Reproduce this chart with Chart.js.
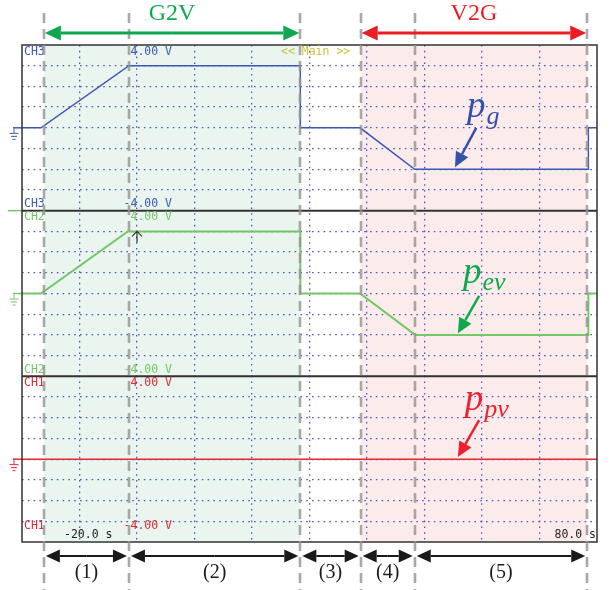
<!DOCTYPE html>
<html>
<head>
<meta charset="utf-8">
<script src="https://cdn.jsdelivr.net/npm/chart.js@4/dist/chart.umd.min.js"></script>
<style>
  html, body { margin: 0; padding: 0; background: #fff; }
</style>
</head>
<body>
<canvas id="scope" width="611" height="590"></canvas>
<script>
// --- data (time in s, 1 V/div scope traces) ---
const timeMin = -20;
const timeMax = 80;
const pgTime = [-20, -16.7, -1.4, 28.4, 28.4, 38.8, 48.3, 78.5, 78.5, 80];
const pgValue = [0, 0, 3, 3, 0, 0, -2, -2, 0, 0];
const pevTime = [-20, -16.7, -1.6, 28.4, 28.4, 38.8, 48.4, 78.5, 78.5, 80];
const pevValue = [0, 0, 3, 3, 0, 0, -2, -2, 0, 0];
const ppvTime = [-20, 80];
const ppvValue = [0, 0];
// operating stage boundaries (grey dashed lines)
const stageEdges = [-16.2, -1.4, 28.4, 38.9, 48.3, 78.3];
const stageLabels = ["(1)", "(2)", "(3)", "(4)", "(5)"];
const channelNames = ["CH3", "CH2", "CH1"];
const rangeLabels = ["4.00 V", "-4.00 V"];
const timeLabels = ["-20.0 s", "80.0 s"];

const blue = "#3a58b4";
const green = "#72c866";
const red = "#e8262e";
const dotGrid = "#4c58c0";

function toPoints(ts, vs) {
    return ts.map((t, i) => ({ x: t, y: vs[i] }));
}

function panelAxis() {
    return {
        type: "linear",
        position: "left",
        stack: "scope",
        stackWeight: 1,
        min: -4,
        max: 4,
        ticks: { display: false, stepSize: 1 },
        grid: {
            drawTicks: false,
            lineWidth: 1.3,
            color: (c) => (Math.abs(c.tick.value) === 4 ? "rgba(0,0,0,0)" : dotGrid),
        },
        border: { display: false, dash: [1.6, 4.2] },
    };
}

function arrow(ctx, x1, y1, x2, y2, color, width, headLen, headHalf) {
    const a = Math.atan2(y2 - y1, x2 - x1);
    const bx = x2 - headLen * Math.cos(a);
    const by = y2 - headLen * Math.sin(a);
    ctx.strokeStyle = color;
    ctx.fillStyle = color;
    ctx.lineWidth = width;
    ctx.beginPath();
    ctx.moveTo(x1, y1);
    ctx.lineTo(bx, by);
    ctx.stroke();
    ctx.beginPath();
    ctx.moveTo(x2, y2);
    ctx.lineTo(bx + headHalf * Math.sin(a), by - headHalf * Math.cos(a));
    ctx.lineTo(bx - headHalf * Math.sin(a), by + headHalf * Math.cos(a));
    ctx.closePath();
    ctx.fill();
}

function doubleArrow(ctx, x1, x2, y, color, width, headLen, headHalf) {
    const mid = (x1 + x2) / 2;
    arrow(ctx, mid, y, x1, y, color, width, headLen, headHalf);
    arrow(ctx, mid, y, x2, y, color, width, headLen, headHalf);
}

function ground(ctx, x, y, color) {
    ctx.strokeStyle = color;
    ctx.lineWidth = 1;
    ctx.beginPath();
    ctx.moveTo(x, y);
    ctx.lineTo(x, y + 4);
    ctx.moveTo(x - 4.5, y + 4.5);
    ctx.lineTo(x + 4.5, y + 4.5);
    ctx.moveTo(x - 3, y + 7.5);
    ctx.lineTo(x + 3, y + 7.5);
    ctx.moveTo(x - 1.5, y + 10.5);
    ctx.lineTo(x + 1.5, y + 10.5);
    ctx.stroke();
}

function label(ctx, main, sub, x, y, color) {
    ctx.fillStyle = color;
    ctx.textAlign = "left";
    ctx.textBaseline = "alphabetic";
    ctx.font = "italic 37px 'Liberation Serif'";
    ctx.fillText(main, x, y);
    const w = ctx.measureText(main).width;
    ctx.font = "italic 26px 'Liberation Serif'";
    ctx.fillText(sub, x + w + 1, y + 7);
}

const scopeDecor = {
    id: "scopeDecor",
    beforeDraw(chart) {
        const { ctx, chartArea: a, scales } = chart;
        const x = scales.x;
        ctx.save();
        ctx.fillStyle = "#fff";
        ctx.fillRect(0, 0, chart.width, chart.height);
        ctx.fillStyle = "#e9f5ee";
        ctx.fillRect(x.getPixelForValue(stageEdges[0]), a.top,
            x.getPixelForValue(stageEdges[2]) - x.getPixelForValue(stageEdges[0]), a.bottom - a.top);
        ctx.fillStyle = "#fcebeb";
        ctx.fillRect(x.getPixelForValue(stageEdges[3]), a.top,
            x.getPixelForValue(stageEdges[5]) - x.getPixelForValue(stageEdges[3]), a.bottom - a.top);
        ctx.restore();
    },
    afterDraw(chart) {
        const { ctx, chartArea: a, scales } = chart;
        const x = scales.x;
        const panels = [scales.y3, scales.y2, scales.y1];
        const colors = [blue, green, red];
        ctx.save();

        // trace stubs to the left of the screen + ground marks
        panels.forEach((p, i) => {
            const y0 = p.getPixelForValue(0);
            ctx.strokeStyle = colors[i];
            ctx.lineWidth = 1.5;
            ctx.beginPath();
            ctx.moveTo(13, y0);
            ctx.lineTo(a.left, y0);
            ctx.stroke();
            ground(ctx, 14, y0 + 1, colors[i]);
        });
        ctx.strokeStyle = green;
        ctx.lineWidth = 1.5;
        ctx.beginPath();
        ctx.moveTo(8, scales.y2.top);
        ctx.lineTo(a.left, scales.y2.top);
        ctx.stroke();

        // frame and panel separators
        ctx.strokeStyle = "#333";
        ctx.lineWidth = 1.5;
        ctx.strokeRect(a.left, a.top, a.right - a.left, a.bottom - a.top);
        ctx.lineWidth = 2;
        ctx.beginPath();
        [scales.y2.top, scales.y1.top].forEach((yy) => {
            ctx.moveTo(a.left, yy);
            ctx.lineTo(a.right, yy);
        });
        ctx.stroke();

        // scope readouts
        ctx.font = "11.5px 'DejaVu Sans Mono'";
        ctx.textBaseline = "top";
        panels.forEach((p, i) => {
            ctx.fillStyle = colors[i];
            ctx.textAlign = "left";
            ctx.fillText(channelNames[i], a.left + 2, p.top + 1);
            ctx.textAlign = "right";
            ctx.fillText(rangeLabels[0], 172, p.top + 1);
            ctx.textBaseline = "bottom";
            const yb = i === 2 ? p.bottom - 10 : p.bottom - 1;
            ctx.textAlign = "left";
            ctx.fillText(channelNames[i], a.left + 2, yb);
            ctx.textAlign = "right";
            ctx.fillText(rangeLabels[1], 172, yb);
            ctx.textBaseline = "top";
        });
        ctx.fillStyle = "#c8c43c";
        ctx.textAlign = "left";
        ctx.fillText("<< Main >>", 281, a.top + 1);
        ctx.fillStyle = "#222";
        ctx.textBaseline = "bottom";
        ctx.fillText(timeLabels[0], 64, a.bottom - 1);
        ctx.textAlign = "right";
        ctx.fillText(timeLabels[1], a.right - 1, a.bottom - 1);

        // cursor mark on CH2
        const cx = x.getPixelForValue(0);
        const cy = scales.y2.getPixelForValue(3);
        ctx.strokeStyle = "#333";
        ctx.lineWidth = 1.2;
        ctx.beginPath();
        ctx.moveTo(cx, cy);
        ctx.lineTo(cx, cy + 11);
        ctx.moveTo(cx - 5, cy + 5);
        ctx.lineTo(cx, cy);
        ctx.lineTo(cx + 5, cy + 5);
        ctx.stroke();

        // stage boundaries
        ctx.strokeStyle = "rgba(150,146,146,0.8)";
        ctx.lineWidth = 2.6;
        ctx.setLineDash([10, 6]);
        ctx.beginPath();
        stageEdges.forEach((t) => {
            const px = Math.round(x.getPixelForValue(t));
            ctx.moveTo(px, 13);
            ctx.lineTo(px, 590);
        });
        ctx.stroke();
        ctx.setLineDash([]);

        // mode arrows on top
        const ex = stageEdges.map((t) => x.getPixelForValue(t));
        doubleArrow(ctx, ex[0] + 1, ex[2] - 1, 33, "#0ea84e", 3, 16, 7.5);
        doubleArrow(ctx, ex[3] + 1, ex[5] - 1, 33, "#ea1c24", 3, 16, 7.5);
        ctx.font = "24px 'Liberation Serif'";
        ctx.textAlign = "center";
        ctx.textBaseline = "middle";
        ctx.fillStyle = "#0ea84e";
        ctx.fillText("G2V", (ex[0] + ex[2]) / 2, 14);
        ctx.fillStyle = "#ea1c24";
        ctx.fillText("V2G", (ex[3] + ex[5]) / 2, 14);

        // stage arrows below
        ctx.font = "20px 'Liberation Serif'";
        for (let i = 0; i < stageLabels.length; i++) {
            doubleArrow(ctx, ex[i] + 2, ex[i + 1] - 2, 556, "#1a1a1a", 2, 14, 6.5);
            ctx.fillStyle = "#1a1a1a";
            ctx.fillText(stageLabels[i], (ex[i] + ex[i + 1]) / 2, 573);
        }

        // trace names
        const y3 = scales.y3, y2 = scales.y2, y1 = scales.y1;
        label(ctx, "p", "g", x.getPixelForValue(57.4), y3.getPixelForValue(0.53), "#3450a8");
        arrow(ctx, x.getPixelForValue(59), y3.getPixelForValue(0), x.getPixelForValue(55.3), y3.getPixelForValue(-1.9), "#3450a8", 2.5, 15, 7);
        label(ctx, "p", "ev", x.getPixelForValue(56.7), y2.getPixelForValue(0.5), "#10a84c");
        arrow(ctx, x.getPixelForValue(59.5), y2.getPixelForValue(-0.12), x.getPixelForValue(55.8), y2.getPixelForValue(-1.92), "#10a84c", 2.5, 15, 7);
        label(ctx, "p", "pv", x.getPixelForValue(57), y1.getPixelForValue(2.36), "#ee2030");
        arrow(ctx, x.getPixelForValue(59.5), y1.getPixelForValue(1.88), x.getPixelForValue(55.8), y1.getPixelForValue(0.1), "#ee2030", 2.5, 15, 7);

        ctx.restore();
    },
};

new Chart(document.getElementById("scope").getContext("2d"), {
    type: "line",
    data: {
        datasets: [
            { label: "pg", data: toPoints(pgTime, pgValue), yAxisID: "y3", borderColor: blue, borderWidth: 1.5 },
            { label: "pev", data: toPoints(pevTime, pevValue), yAxisID: "y2", borderColor: green, borderWidth: 2 },
            { label: "ppv", data: toPoints(ppvTime, ppvValue), yAxisID: "y1", borderColor: red, borderWidth: 1.5 },
        ],
    },
    options: {
        responsive: false,
        animation: false,
        elements: { point: { radius: 0 }, line: { tension: 0 } },
        layout: { padding: { left: 22, right: 14, top: 45, bottom: 48 } },
        scales: {
            x: {
                type: "linear",
                min: timeMin,
                max: timeMax,
                ticks: { display: false, stepSize: 10 },
                grid: {
                    drawTicks: false,
                    lineWidth: 1.3,
                    color: (c) => (c.tick.value === timeMin || c.tick.value === timeMax ? "rgba(0,0,0,0)" : dotGrid),
                },
                border: { display: false, dash: [1.6, 4.2] },
            },
            y1: panelAxis(),
            y2: panelAxis(),
            y3: panelAxis(),
        },
        plugins: {
            legend: { display: false },
            tooltip: { enabled: false },
        },
    },
    plugins: [scopeDecor],
});
</script>
</body>
</html>
